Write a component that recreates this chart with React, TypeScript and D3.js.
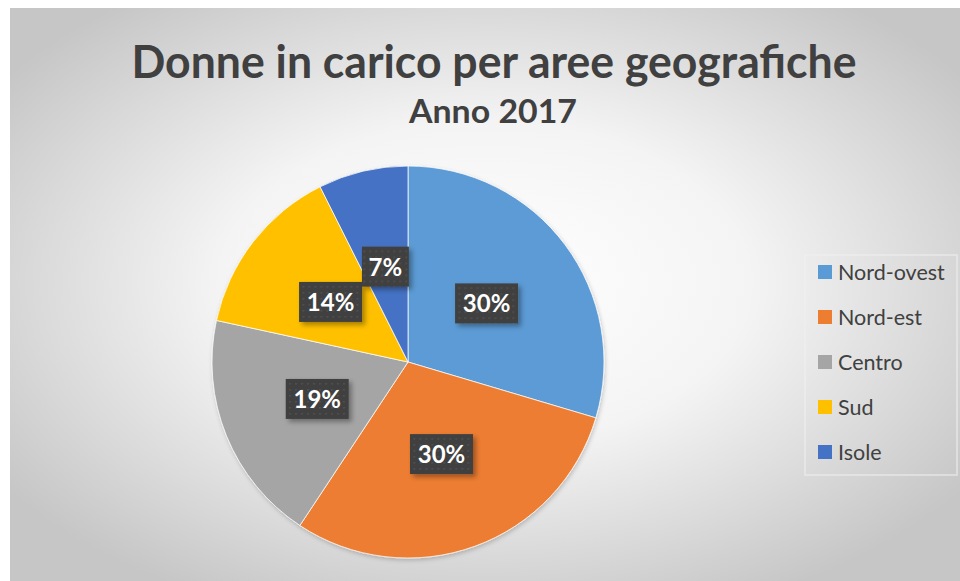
import React from "react"
import * as d3 from "d3"

const categories = ["Nord-ovest", "Nord-est", "Centro", "Sud", "Isole"]
const values = [29.6, 29.7, 19.1, 14.2, 7.4]
const colors = ["#5B9BD5", "#ED7D31", "#A5A5A5", "#FFC000", "#4472C4"]

const title = "Donne in carico per aree geografiche"
const subtitle = "Anno 2017"

export default function App() {
  const width = 960
  const height = 581
  const cx = 408
  const cy = 362
  const r = 196

  const total = d3.sum(values)
  const pie = d3.pie<number>().sort(null).value(d => d)
  const arcs = pie(values)
  const arc = d3.arc<d3.PieArcDatum<number>>().innerRadius(0).outerRadius(r)
  const labelArc = d3.arc<d3.PieArcDatum<number>>().innerRadius(r * 0.5).outerRadius(r * 0.5)

  const legendY = d3.scalePoint<string>().domain(categories).range([272, 452])

  const font = "Lato, 'Open Sans', sans-serif"

  return (
    <svg
      width={width}
      height={height}
      style={{ position: "absolute", left: 0, top: 0 }}
    >
      <defs>
        <radialGradient id="bg" cx="50%" cy="48%" r="62%">
          <stop offset="0%" stopColor="#ffffff" />
          <stop offset="45%" stopColor="#f4f4f4" />
          <stop offset="100%" stopColor="#c6c6c6" />
        </radialGradient>
        <pattern id="dots" width="6" height="6" patternUnits="userSpaceOnUse">
          <rect width="6" height="6" fill="#404040" />
          <rect x="2" y="2" width="1.5" height="1.5" fill="#555" />
        </pattern>
        <filter id="shadow" x="-20%" y="-20%" width="150%" height="160%">
          <feDropShadow dx="3" dy="3" stdDeviation="2.5" floodColor="#000" floodOpacity="0.35" />
        </filter>
        <filter id="pieShadow" x="-10%" y="-10%" width="120%" height="120%">
          <feDropShadow dx="1" dy="2" stdDeviation="2" floodColor="#000" floodOpacity="0.2" />
        </filter>
      </defs>

      <rect x={0} y={0} width={width} height={height} fill="#ffffff" />
      <rect x={10} y={8} width={width - 10} height={height - 8} fill="url(#bg)" />

      <text
        x={494}
        y={78}
        textAnchor="middle"
        fontFamily={font}
        fontWeight="bold"
        fontSize={45}
        fill="#404040"
        textLength={725}
        lengthAdjust="spacingAndGlyphs"
      >
        {title}
      </text>
      <text
        x={493}
        y={123}
        textAnchor="middle"
        fontFamily={font}
        fontWeight="bold"
        fontSize={32}
        fill="#404040"
        textLength={168}
        lengthAdjust="spacingAndGlyphs"
      >
        {subtitle}
      </text>

      <g transform={`translate(${cx},${cy})`}>
        <g filter="url(#pieShadow)">
          {arcs.map((a, i) => (
            <path key={i} d={arc(a) || ""} fill={colors[i]} stroke="#ffffff" strokeWidth={0.75} />
          ))}
        </g>
        {arcs.map((a, i) => {
          const [lx, ly] = labelArc.centroid(a)
          const label = Math.round((values[i] / total) * 100) + "%"
          const w = label.length === 2 ? 47 : 63
          return (
            <g key={i} transform={`translate(${lx},${ly})`}>
              <rect
                x={-w / 2}
                y={-20}
                width={w}
                height={40}
                fill="url(#dots)"
                filter="url(#shadow)"
              />
              <text
                y={9}
                textAnchor="middle"
                fontFamily={font}
                fontWeight="bold"
                fontSize={24}
                fill="#ffffff"
              >
                {label}
              </text>
            </g>
          )
        })}
      </g>

      <rect x={805} y={255} width={152} height={220} fill="none" stroke="#f0f0f0" strokeOpacity={0.7} strokeWidth={1.5} />
      {categories.map((c, i) => {
        const y = legendY(c) || 0
        return (
          <g key={c}>
            <rect x={818} y={y - 7} width={14} height={14} fill={colors[i]} />
            <text
              x={838}
              y={y + 7.5}
              fontFamily={font}
              fontSize={21.5}
              fill="#404040"
            >
              {c}
            </text>
          </g>
        )
      })}
    </svg>
  )
}
